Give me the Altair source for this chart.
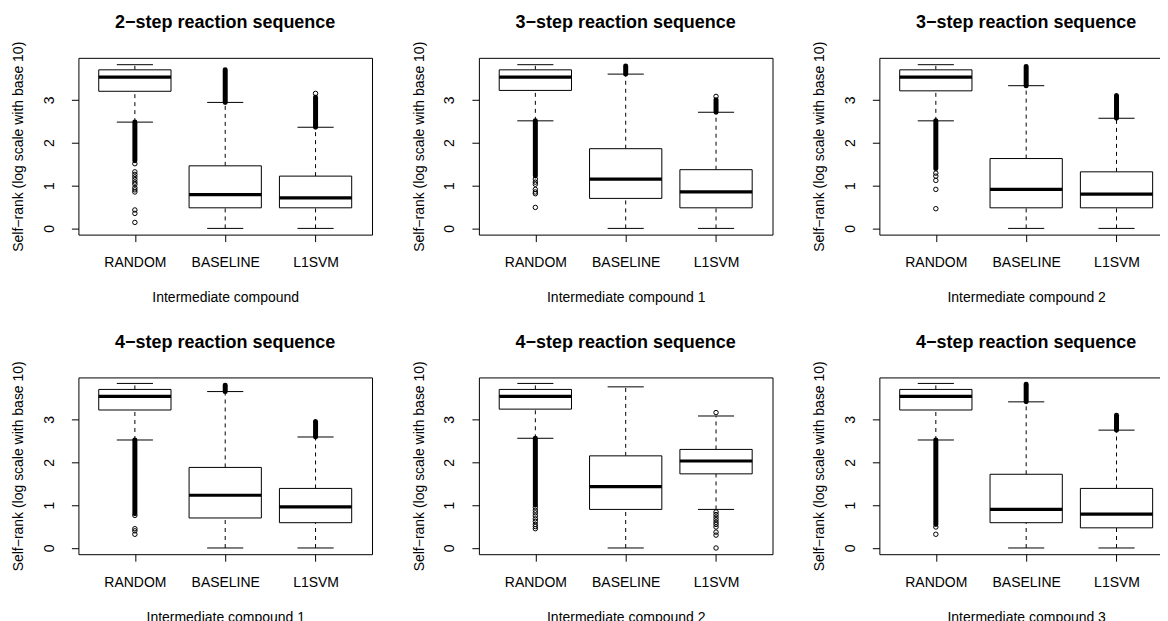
import altair as alt
import pandas as pd

methods = ["RANDOM", "BASELINE", "L1SVM"]
titles = ["2−step reaction sequence", "3−step reaction sequence", "3−step reaction sequence",
          "4−step reaction sequence", "4−step reaction sequence", "4−step reaction sequence"]
x_titles = ["Intermediate compound", "Intermediate compound 1", "Intermediate compound 2",
            "Intermediate compound 1", "Intermediate compound 2", "Intermediate compound 3"]
y_title = "Self−rank (log scale with base 10)"

# box statistics per panel, per method (RANDOM, BASELINE, L1SVM)
lower_whisker = [[2.48, 0, 0], [2.51, 0, 0], [2.51, 0, 0], [2.52, 0, 0], [2.56, 0, 0.90], [2.52, 0, 0]]
q1 = [[3.20, 0.48, 0.48], [3.22, 0.70, 0.48], [3.21, 0.48, 0.48], [3.22, 0.70, 0.59], [3.24, 0.90, 1.73], [3.22, 0.59, 0.47]]
median = [[3.53, 0.79, 0.71], [3.53, 1.15, 0.85], [3.53, 0.91, 0.80], [3.54, 1.23, 0.96], [3.54, 1.43, 2.03], [3.54, 0.90, 0.79]]
q3 = [[3.70, 1.46, 1.22], [3.70, 1.86, 1.37], [3.70, 1.63, 1.32], [3.70, 1.88, 1.39], [3.70, 2.15, 2.30], [3.70, 1.72, 1.39]]
upper_whisker = [[3.82, 2.94, 2.36], [3.82, 3.60, 2.71], [3.82, 3.33, 2.57], [3.84, 3.65, 2.59], [3.84, 3.76, 3.08], [3.84, 3.41, 2.75]]

# ranges covered by densely overlapping outliers
dense_lo = [[1.58, 2.94, 2.36], [1.22, 3.60, 2.71], [1.40, 3.33, 2.57], [0.80, 3.65, 2.59], [1.00, None, None], [0.55, 3.41, 2.75]]
dense_hi = [[2.48, 3.70, 3.06], [2.51, 3.79, 3.00], [2.51, 3.78, 3.10], [2.52, 3.80, 2.95], [2.56, None, None], [2.52, 3.82, 3.10]]

# individually visible outliers
sparse = [
    [[1.51, 1.32, 1.26, 1.20, 1.14, 1.08, 1.03, 0.95, 0.90, 0.85, 0.43, 0.35, 0.14], [], [3.15]],
    [[1.15, 1.08, 1.03, 0.91, 0.85, 0.81, 0.49], [], [3.08]],
    [[1.29, 1.22, 1.12, 0.91, 0.46], [], []],
    [[0.76, 0.45, 0.40, 0.32], [], []],
    [[0.95, 0.88, 0.82, 0.75, 0.68, 0.62, 0.55, 0.50, 0.45], [],
     [3.16, 0.84, 0.78, 0.72, 0.66, 0.60, 0.55, 0.49, 0.37, 0.30, 0.0]],
    [[0.49, 0.32], [], []],
]

FONT = "Liberation Sans"
label_expr = " : ".join(f"datum.value == {j + 1} ? '{m}'" for j, m in enumerate(methods[:-1])) + f" : '{methods[-1]}'"


def panel(i):
    box_df = pd.DataFrame({
        "pos": [1, 2, 3], "method": methods,
        "lo": lower_whisker[i], "q1": q1[i], "med": median[i], "q3": q3[i], "hi": upper_whisker[i],
    })
    dense_df = pd.DataFrame([
        {"pos": j + 1, "lo": dense_lo[i][j], "hi": dense_hi[i][j]}
        for j in range(3) if dense_lo[i][j] is not None
    ])
    out_df = pd.DataFrame([{"pos": j + 1, "v": v} for j in range(3) for v in sparse[i][j]])

    xs = alt.Scale(domain=[0.375, 3.625], nice=False, zero=False)
    ys = alt.Scale(domain=[-0.145, 3.98], nice=False, zero=False)
    xaxis = alt.Axis(values=[1, 2, 3], labelExpr=label_expr, title=x_titles[i],
                     labelPadding=25, labelBaseline="alphabetic", labelFontSize=14,
                     titleFontSize=14, titleFontWeight="normal", titleY=67,
                     titleBaseline="alphabetic", labelFlush=False, labelOverlap=False)
    yaxis = alt.Axis(values=[0, 1, 2, 3], format="d", title=y_title, labelAngle=270,
                     labelAlign="center", labelBaseline="alphabetic", labelPadding=18,
                     labelFontSize=14, titleFontSize=14, titleFontWeight="normal",
                     titleX=-55.5, titleY=88.5, titleAngle=270, titleAlign="center",
                     titleBaseline="alphabetic", labelFlush=False, labelOverlap=False)

    def X(f):
        return alt.X(f, scale=xs, axis=xaxis)

    def Y(f):
        return alt.Y(f, scale=ys, axis=yaxis)

    base = alt.Chart(box_df)
    up_whisk = base.mark_rule(color="black", strokeWidth=1, strokeDash=[4, 4]).encode(
        x=X("pos:Q"), y=Y("q3:Q"), y2="hi:Q",
    )
    lo_whisk = base.mark_rule(color="black", strokeWidth=1, strokeDash=[4, 4]).encode(
        x=X("pos:Q"), y=Y("lo:Q"), y2="q1:Q",
    )
    capped = base.transform_calculate(cl="datum.pos - 0.2", cr="datum.pos + 0.2")
    cap_hi = capped.mark_rule(color="black", strokeWidth=1).encode(
        x=X("cl:Q"), x2="cr:Q", y=Y("hi:Q"),
    )
    cap_lo = capped.mark_rule(color="black", strokeWidth=1).encode(
        x=X("cl:Q"), x2="cr:Q", y=Y("lo:Q"),
    )
    boxed = base.transform_calculate(bl="datum.pos - 0.4", br="datum.pos + 0.4")
    box = boxed.mark_rect(fill="white", stroke="black", strokeWidth=1).encode(
        x=X("bl:Q"), x2="br:Q", y=Y("q1:Q"), y2="q3:Q",
    )
    med = boxed.mark_rule(color="black", strokeWidth=3.2).encode(
        x=X("bl:Q"), x2="br:Q", y=Y("med:Q"),
    )
    layers = [up_whisk, lo_whisk, cap_hi, cap_lo, box, med]
    if len(dense_df):
        dense = alt.Chart(dense_df).mark_rule(color="black", strokeWidth=5, strokeCap="round").encode(
            x=X("pos:Q"), y=Y("lo:Q"), y2="hi:Q",
        )
        layers.append(dense)
    if len(out_df):
        pts = alt.Chart(out_df).mark_point(shape="circle", filled=False, color="black",
                                           size=20, strokeWidth=1, opacity=1).encode(
            x=X("pos:Q"), y=Y("v:Q"),
        )
        layers.append(pts)

    return alt.layer(*layers).properties(
        width=294, height=177,
        title=alt.TitleParams(text=titles[i], fontSize=18, font=FONT, fontWeight="bold",
                              offset=-5, baseline="alphabetic", frame="group", anchor="middle",
                              color="black"),
    )


chart = alt.concat(*[panel(i) for i in range(6)], columns=3).properties(
    spacing={"row": 143, "column": 107},
    bounds="flush",
    padding={"left": 2.5, "top": 4.5, "right": -14, "bottom": 5},
).configure(
    background="white"
).configure_view(
    stroke="black", strokeWidth=1
).configure_axis(
    domain=False, grid=False, tickColor="black", tickSize=7, tickWidth=1,
    labelColor="black", titleColor="black", labelFont=FONT, titleFont=FONT,
)

chart.save("out.html", embed_options={"renderer": "svg", "actions": False})
